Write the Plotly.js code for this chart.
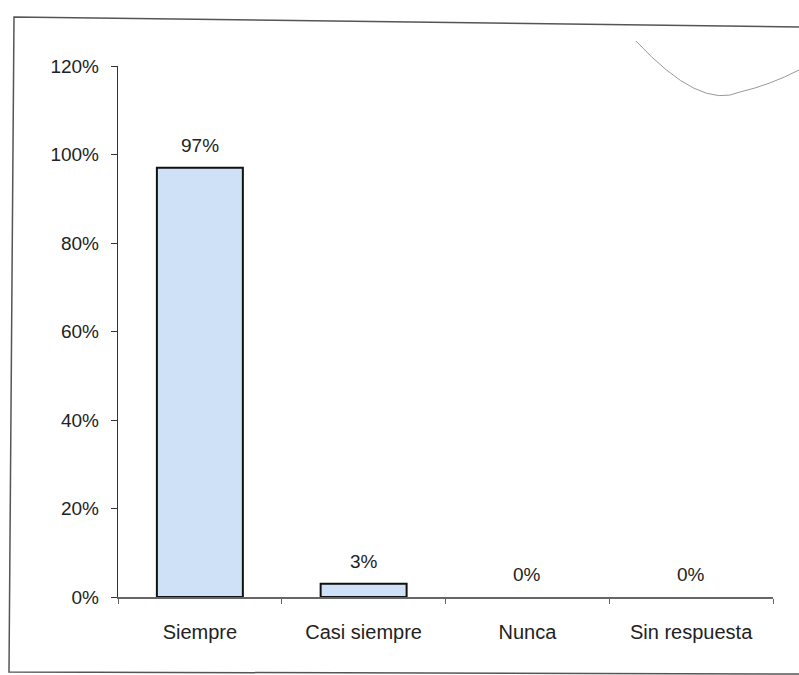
<!DOCTYPE html>
<html>
<head>
<meta charset="utf-8">
<script src="https://cdn.plot.ly/plotly-3.0.1.min.js"></script>
<style>html,body{margin:0;padding:0;background:#fff;}#chart{width:799px;height:675px;}</style>
</head>
<body>
<div id="chart"></div>
<script>
const categories = ["Siempre", "Casi siempre", "Nunca", "Sin respuesta"];
const values = [0.97, 0.03, 0, 0];
const valueLabels = ["97%", "3%", "0%", "0%"];
const yTickVals = [0, 0.2, 0.4, 0.6, 0.8, 1.0, 1.2];
const yTickText = ["0%", "20%", "40%", "60%", "80%", "100%", "120%"];

const W = 799, H = 675, L = 118, R = 26, T = 66, B = 78;
const pw = W - L - R, ph = H - T - B;
const px = x => (x - L) / pw;
const py = y => (H - B - y) / ph;

const font = {family: "Liberation Sans, Arial, sans-serif", size: 19, color: "#222"};
const xFont = {family: "Liberation Sans, Arial, sans-serif", size: 20, color: "#222"};

const trace = {
  type: "bar",
  x: categories,
  y: values,
  width: 0.525,
  marker: {color: "#cfe1f6", line: {color: "#111", width: values.map(v => v > 0 ? 2 : 0)}},
  hoverinfo: "skip"
};

const annotations = categories.map((c, i) => ({
  x: c, y: values[i], xref: "x", yref: "y",
  text: valueLabels[i], showarrow: false,
  yanchor: "bottom", yshift: 10, font: font
}));

const border = `M ${px(799)} ${py(27)} L ${px(14)} ${py(17)} L ${px(9)} ${py(672)} L ${px(799)} ${py(674)}`;
const curve = `M ${px(636)} ${py(41)} Q ${px(700)} ${py(110)} ${px(740)} ${py(92)} Q ${px(770)} ${py(85)} ${px(799)} ${py(70)}`;

const layout = {
  width: W, height: H,
  margin: {l: L, r: R, t: T, b: B},
  paper_bgcolor: "#fff", plot_bgcolor: "#fff",
  showlegend: false,
  font: font,
  xaxis: {
    type: "category",
    tickson: "boundaries",
    ticks: "outside", ticklen: 5, tickcolor: "#666", tickwidth: 1,
    showline: true, linecolor: "#666", linewidth: 1.5,
    showgrid: false, zeroline: false,
    tickfont: xFont, ticklabelstandoff: 16
  },
  yaxis: {
    range: [0, 1.2],
    tickvals: yTickVals, ticktext: yTickText,
    ticks: "outside", ticklen: 6, tickcolor: "#333", tickwidth: 1,
    showline: true, linecolor: "#333", linewidth: 1.2,
    showgrid: false, zeroline: false,
    tickfont: font, ticklabelstandoff: 8
  },
  annotations: annotations,
  shapes: [
    {type: "path", path: border, xref: "paper", yref: "paper", line: {color: "#555", width: 1.5}, layer: "above"},
    {type: "path", path: curve, xref: "paper", yref: "paper", line: {color: "#999", width: 1}, layer: "above"}
  ]
};

Plotly.newPlot("chart", [trace], layout, {displayModeBar: false, staticPlot: true});
</script>
</body>
</html>
